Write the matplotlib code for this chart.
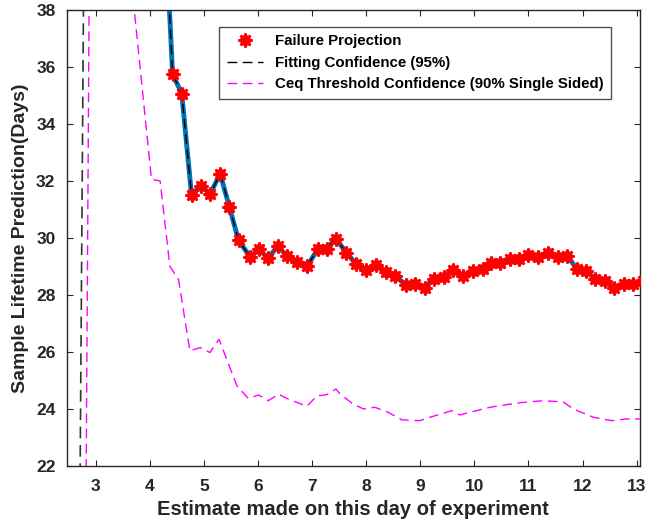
import matplotlib
matplotlib.use('Agg')
import matplotlib.pyplot as plt

# failure projection (day, predicted lifetime)
proj_days = [4.25, 4.42, 4.59, 4.77, 4.94, 5.12, 5.30, 5.47, 5.64, 5.85, 6.02,
             6.19, 6.36, 6.54, 6.72, 6.91, 7.10, 7.27, 7.44, 7.63, 7.82, 8.00,
             8.19, 8.37, 8.54, 8.74, 8.91, 9.08, 9.25, 9.44, 9.61, 9.79, 9.98,
             10.16, 10.30, 10.47, 10.65, 10.82, 10.99, 11.18, 11.36, 11.54,
             11.72, 11.89, 12.07, 12.23, 12.41, 12.59, 12.77, 12.94, 13.12]
proj_vals = [42.4, 35.74, 35.05, 31.51, 31.80, 31.55, 32.25, 31.08, 29.91, 29.34,
             29.59, 29.28, 29.71, 29.36, 29.16, 29.01, 29.59, 29.62, 29.97, 29.48,
             29.07, 28.87, 29.04, 28.80, 28.66, 28.33, 28.37, 28.25, 28.57, 28.64,
             28.87, 28.66, 28.83, 28.92, 29.13, 29.13, 29.27, 29.24, 29.38, 29.34,
             29.45, 29.34, 29.36, 28.92, 28.83, 28.57, 28.48, 28.25, 28.37, 28.37,
             28.48]

# early part of the fitting confidence band (runs off the axes)
fit_edge_days = [2.70, 2.78]
fit_edge_vals = [19.0, 40.0]

# Ceq threshold confidence
ceq_days = [2.80, 2.90, 3.55, 4.03, 4.19, 4.37, 4.53, 4.74, 4.93, 5.11, 5.28,
            5.61, 5.82, 6.01, 6.19, 6.38, 6.53, 6.72, 6.90, 7.09, 7.27, 7.44,
            7.52, 7.76, 7.95, 8.16, 8.41, 8.66, 8.99, 9.18, 9.58, 9.73, 9.95,
            10.29, 10.66, 10.90, 11.27, 11.64, 11.83, 12.20, 12.54, 12.81, 13.06]
ceq_vals = [15.0, 45.0, 41.0, 32.05, 31.99, 29.0, 28.54, 26.04, 26.15, 25.98, 26.44,
            24.81, 24.37, 24.49, 24.29, 24.52, 24.37, 24.23, 24.09, 24.46, 24.50,
            24.70, 24.52, 24.17, 24.00, 24.06, 23.88, 23.62, 23.59, 23.71, 23.94,
            23.79, 23.90, 24.06, 24.17, 24.23, 24.29, 24.25, 24.00, 23.71, 23.59,
            23.65, 23.65]

x_ticks = list(range(3, 14))
y_ticks = list(range(22, 39, 2))

plt.rcParams['font.family'] = ['Liberation Sans', 'DejaVu Sans']
plt.rcParams['font.weight'] = 'bold'
dark = '#262626'
dash = (7, 4)

fig = plt.figure(figsize=(6.59, 5.29), dpi=100)
ax = fig.add_axes([0.101, 0.119, 0.870, 0.863])

ax.plot(proj_days, proj_vals, color='#0072BD', lw=3.5, zorder=2)
fit_line, = ax.plot(proj_days, proj_vals, color='black', lw=1, dashes=dash, zorder=3)
ax.plot(fit_edge_days, fit_edge_vals, color='#333333', lw=1.2, dashes=dash, zorder=3)
ceq_line, = ax.plot(ceq_days, ceq_vals, color='#FF00FF', lw=1, dashes=dash, zorder=3)
# red asterisk blobs: filled dot under an asterisk
dots, = ax.plot(proj_days, proj_vals, ls='none', marker='o', ms=7,
                color='red', mec='red', zorder=4)
stars, = ax.plot(proj_days, proj_vals, ls='none', marker=(8, 2, 0), ms=10,
                 mew=1.8, color='red', mec='red', zorder=4)

ax.set_xlim(2.46, 13.06)
ax.set_ylim(22, 38)
ax.set_xticks(x_ticks)
ax.set_yticks(y_ticks)
ax.tick_params(direction='in', top=True, right=True, length=4, width=0.8,
               colors=dark, labelsize=12.5)
ax.tick_params(axis='x', pad=9)
ax.tick_params(axis='y', pad=8)
for lab in ax.get_xticklabels() + ax.get_yticklabels():
    lab.set_fontweight('bold')
for s in ax.spines.values():
    s.set_color(dark)
    s.set_linewidth(1)

ax.set_xlabel('Estimate made on this day of experiment', fontsize=14.5,
              fontweight='bold', color=dark, labelpad=5)
ax.set_ylabel('Sample Lifetime Prediction(Days)', fontsize=14,
              fontweight='bold', color=dark, labelpad=5)

leg = ax.legend([(dots, stars), fit_line, ceq_line],
                ['Failure Projection', 'Fitting Confidence (95%)',
                 'Ceq Threshold Confidence (90% Single Sided)'],
                loc='upper left', bbox_to_anchor=(0.266, 0.962),
                prop={'weight': 'bold', 'size': 10.8}, frameon=True,
                fancybox=False, edgecolor=dark, handlelength=2.4,
                borderpad=0.5, labelspacing=0.5, handletextpad=0.8,
                borderaxespad=0)
leg.get_frame().set_linewidth(1)

fig.savefig('out.png', dpi=100)
